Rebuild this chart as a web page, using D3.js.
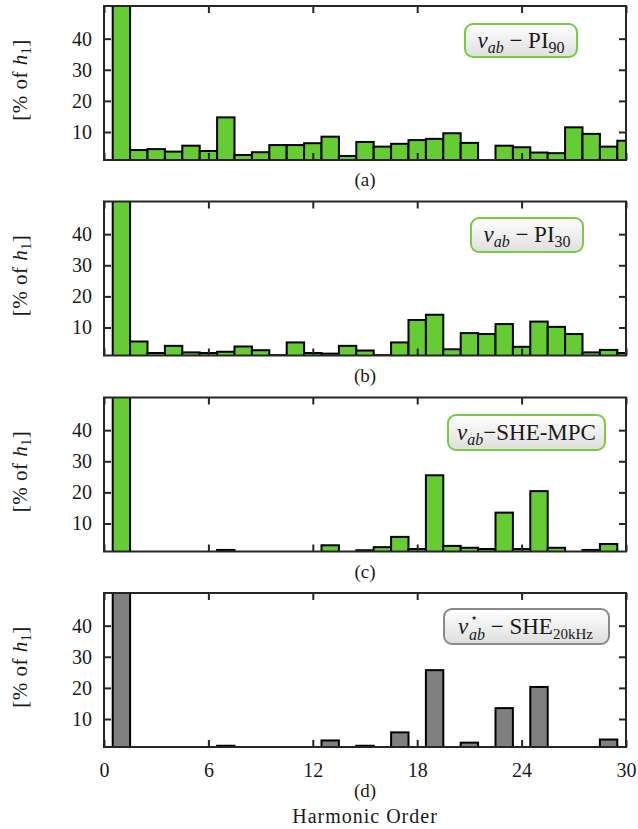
<!DOCTYPE html>
<html lang="en">
<head>
<meta charset="utf-8">
<title>Harmonic spectra</title>
<script src="https://cdn.jsdelivr.net/npm/d3@7"></script>
<style>
  body { margin: 0; background: #fff; }
  text { font-family: "Liberation Serif", "Times New Roman", serif; fill: #1a1a1a; }
  .frame { fill: none; stroke: #262626; stroke-width: 2; }
</style>
</head>
<body>
<script>
// harmonic orders 1..30
var harmonics = d3.range(1, 31);
var xTicks = [0, 6, 12, 18, 24, 30];
var yTicks = [10, 20, 30, 40];
var panelLetters = ["(a)", "(b)", "(c)", "(d)"];

// % of h1 (first harmonic goes off the top)
var pi90 = [100, 4.2, 4.5, 3.7, 5.6, 3.9, 14.7, 2.6, 3.5, 5.8, 5.8, 6.4, 8.5, 2.3, 6.8,
            5.3, 6.2, 7.4, 7.8, 9.6, 6.5, 0.5, 5.6, 5.1, 3.4, 3.2, 11.5, 9.4, 5.3, 7.2];
var pi30 = [100, 5.5, 1.8, 4.1, 2.0, 1.8, 2.2, 3.9, 2.7, 1.1, 5.2, 1.8, 1.6, 4.1, 2.6,
            1.1, 5.2, 12.4, 14.1, 3.0, 8.2, 7.9, 11.1, 3.8, 11.9, 10.2, 7.9, 2.0, 2.8, 1.8];
var sheMpc = [100, 0, 0, 0, 0, 0, 1.5, 0, 0, 0, 0, 0, 3.0, 0, 1.4,
              2.4, 5.7, 1.8, 25.5, 2.8, 2.2, 1.8, 13.5, 1.8, 20.4, 2.2, 0, 1.5, 3.4, 0];
var she20k = [100, 0, 0, 0, 0, 0, 1.4, 0, 0, 0, 0, 0, 3.1, 0, 1.4,
              0, 5.7, 0, 25.7, 0, 2.4, 0, 13.5, 0, 20.3, 0, 0, 0, 3.4, 0];

var w = 638, h = 829;
var xL = 104, xR = 626;
var panelH = 154;
var tops = [6, 201.5, 397.5, 593];
var serif = "'Liberation Serif', 'Times New Roman', serif";

var panels = [
  {vals: pi90,   fill: "#66cc33", edge: "#77cc44", box: [465, 24, 112, 33]},
  {vals: pi30,   fill: "#66cc33", edge: "#77cc44", box: [471, 218, 112, 34]},
  {vals: sheMpc, fill: "#66cc33", edge: "#77cc44", box: [448, 415, 157, 35]},
  {vals: she20k, fill: "#808080", edge: "#8a8a8a", box: [444, 609, 165, 35]}
];

var svg = d3.select("body").append("svg").attr("width", w).attr("height", h);

var grad = svg.append("defs").append("linearGradient")
  .attr("id", "boxgrad").attr("x1", 0).attr("y1", 0).attr("x2", 0).attr("y2", 1);
grad.append("stop").attr("offset", "0%").attr("stop-color", "#ffffff");
grad.append("stop").attr("offset", "100%").attr("stop-color", "#dedede");

var x = d3.scaleLinear().domain([0, 30]).range([xL, xR]);

panels.forEach(function(p, i) {
  var top = tops[i], bot = top + panelH;
  var y = d3.scaleLinear().domain([1, 50.5]).range([bot, top]);
  var g = svg.append("g");

  g.append("clipPath").attr("id", "clip" + i).append("rect")
    .attr("x", xL).attr("y", top).attr("width", xR - xL).attr("height", panelH);

  var rows = harmonics.map(function(k, j) { return [k, p.vals[j]]; })
    .filter(function(d) { return d[1] > 1; });

  g.append("g").attr("clip-path", "url(#clip" + i + ")")
    .selectAll("rect").data(rows).enter().append("rect")
    .attr("x", function(d) { return x(d[0] - 0.5); })
    .attr("width", function(d) { return x(d[0] + 0.5) - x(d[0] - 0.5); })
    .attr("y", function(d) { return y(Math.min(d[1], 60)); })
    .attr("height", function(d) { return bot + 3 - y(Math.min(d[1], 60)); })
    .attr("fill", p.fill)
    .attr("stroke", "#000").attr("stroke-width", 2);

  // axes, ticks inward
  g.append("g").attr("transform", "translate(" + xL + ",0)")
    .call(d3.axisLeft(y).tickValues(yTicks).tickSize(-7).tickPadding(12));
  g.append("g").attr("transform", "translate(" + xR + ",0)")
    .call(d3.axisRight(y).tickValues(yTicks).tickSize(-7).tickFormat(""));
  g.append("g").attr("transform", "translate(0," + bot + ")")
    .call(d3.axisBottom(x).tickValues(xTicks).tickSize(-7).tickPadding(16)
      .tickFormat(i === 3 ? d3.format("d") : ""));
  g.append("g").attr("transform", "translate(0," + top + ")")
    .call(d3.axisTop(x).tickValues(xTicks).tickSize(-7).tickFormat(""));

  g.selectAll(".domain").remove();
  g.selectAll(".tick line").attr("stroke", "#262626").attr("stroke-width", 2);
  g.selectAll(".tick text")
    .style("font-family", serif).style("font-size", "20px").attr("fill", "#1a1a1a");

  g.append("rect").attr("class", "frame")
    .attr("x", xL).attr("y", top).attr("width", xR - xL).attr("height", panelH);

  // y label
  var yl = g.append("text")
    .attr("transform", "translate(27," + (top + panelH / 2 - 3) + ") rotate(-90)")
    .attr("text-anchor", "middle").style("font-size", "21px")
    .style("letter-spacing", "0.5px");
  yl.append("tspan").text("[% of ");
  yl.append("tspan").style("font-style", "italic").text("h");
  yl.append("tspan").attr("dy", 4).style("font-size", "14px").text("1");
  yl.append("tspan").attr("dy", -4).text("]");

  // panel letter
  g.append("text").attr("x", (xL + xR) / 2)
    .attr("y", i === 3 ? bot + 50 : bot + 26)
    .attr("text-anchor", "middle").style("font-size", "19px")
    .text(panelLetters[i]);

  // legend box
  var b = p.box;
  g.append("rect").attr("x", b[0]).attr("y", b[1]).attr("width", b[2]).attr("height", b[3])
    .attr("rx", 8).attr("fill", "url(#boxgrad)")
    .attr("stroke", p.edge).attr("stroke-width", 2);

  var cx = b[0] + b[2] / 2, base = b[1] + b[3] / 2 + 7;
  if (i === 3) {
    // v with stacked star and subscript
    var vx = b[0] + 14;
    g.append("text").attr("x", vx).attr("y", base)
      .style("font-size", "23px").style("font-style", "italic").text("v");
    g.append("text").attr("x", vx + 12).attr("y", base - 12)
      .style("font-size", "13px").text("\u22c6");
    var t3 = g.append("text").attr("x", vx + 11).attr("y", base + 6)
      .style("font-size", "16px");
    t3.append("tspan").style("font-style", "italic").text("ab");
    t3.append("tspan").attr("dy", -6).style("font-size", "23px").text(" \u2212 SHE");
    t3.append("tspan").attr("dy", 5).style("font-size", "15px").text("20kHz");
  } else {
    var t = g.append("text").attr("x", cx).attr("y", base)
      .attr("text-anchor", "middle").style("font-size", "23px");
    t.append("tspan").style("font-style", "italic").text("v");
    t.append("tspan").attr("dy", 5).style("font-size", "16px")
      .style("font-style", "italic").text("ab");
    if (i < 2) {
      t.append("tspan").attr("dy", -5).text(" \u2212 PI");
      t.append("tspan").attr("dy", 5).style("font-size", "16px").text(i === 0 ? "90" : "30");
    } else {
      t.append("tspan").attr("dy", -5).text("\u2212SHE-MPC");
    }
  }
});

svg.append("text").attr("x", (xL + xR) / 2).attr("y", 823)
  .attr("text-anchor", "middle").style("font-size", "20px")
  .style("letter-spacing", "1px")
  .text("Harmonic Order");
</script>
</body>
</html>
